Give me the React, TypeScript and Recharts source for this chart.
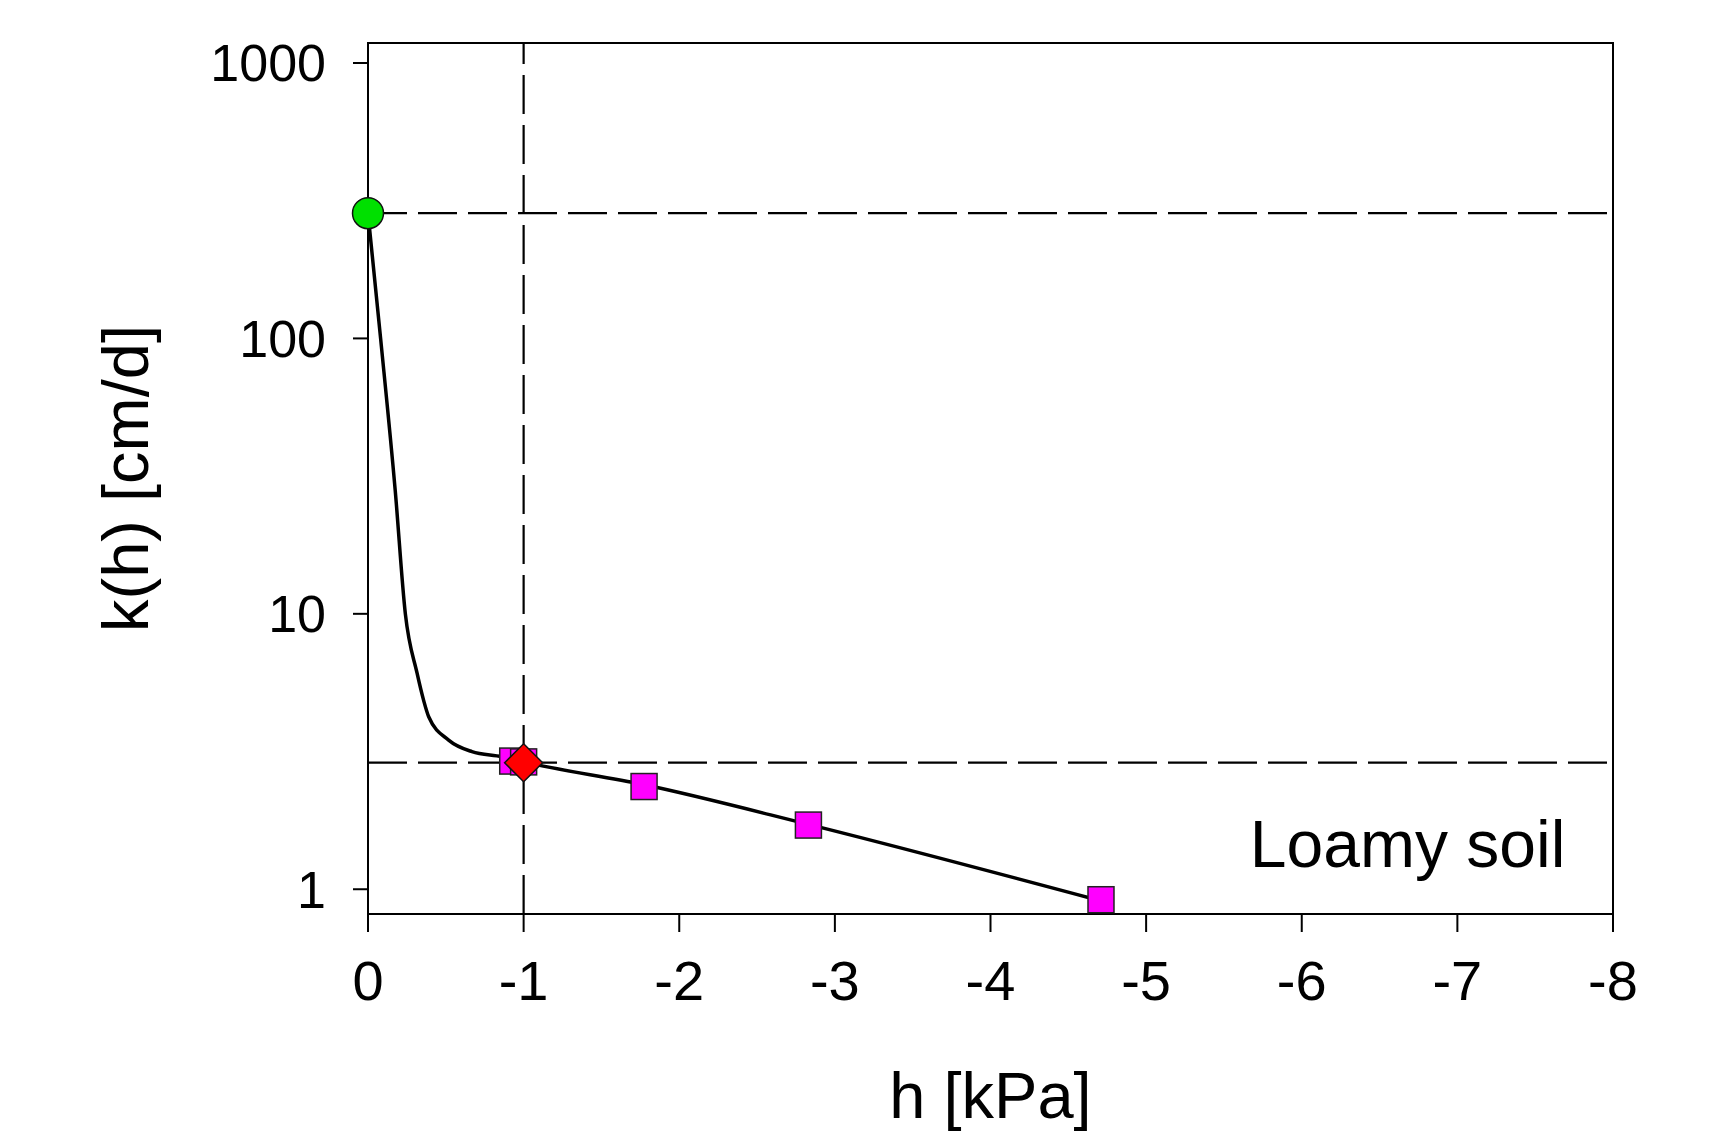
import React from "react";
import {
  ComposedChart,
  Line,
  Scatter,
  XAxis,
  YAxis,
  ReferenceLine,
  ReferenceArea,
  ReferenceDot,
  Label,
} from "recharts";

// fitted k(h) curve, h in kPa, k in cm/d
const curveH = [0, -0.081, -0.175, -0.24, -0.315, -0.357, -0.39, -0.518, -0.668, -0.86, -1, -1.77, -2.83, -4.7];
const curveK = [285, 100, 28, 10, 6.1, 4.86, 4.23, 3.48, 3.16, 3.03, 2.9, 2.4, 1.72, 0.91];

// measured points (squares)
const measH = [-0.93, -1.0, -1.774, -2.83, -4.71];
const measK = [2.92, 2.9, 2.36, 1.71, 0.916];

// saturated k (circle) and k at -1 kPa (diamond)
const satPoint = { h: 0, k: 285 };
const refPoint = { h: -1, k: 2.88 };

const xTicks = [0, -1, -2, -3, -4, -5, -6, -7, -8];
const yTicks = [1, 10, 100, 1000];
const yDomain: [number, number] = [0.813, 1182];

const curve = curveH.map((h, i) => ({ h, k: curveK[i] }));
const measured = measH.map((h, i) => ({ h, k: measK[i] }));

const FONT = "'Liberation Sans', Arial, sans-serif";

const Square = (props: any) => {
  const { cx, cy } = props;
  const s = 26;
  return <rect x={cx - s / 2} y={cy - s / 2} width={s} height={s} fill="#ff00ff" stroke="#222" strokeWidth={1.5} />;
};

const Circle = (props: any) => {
  const { cx, cy } = props;
  return <circle cx={cx} cy={cy} r={15.5} fill="#00e000" stroke="#111" strokeWidth={1.5} />;
};

const Diamond = (props: any) => {
  const { cx, cy } = props;
  const r = 19;
  return (
    <polygon
      points={`${cx},${cy - r} ${cx + r},${cy} ${cx},${cy + r} ${cx - r},${cy}`}
      fill="#ff0000"
      stroke="#111"
      strokeWidth={1.5}
    />
  );
};

export default function App() {
  return (
    <div style={{ position: "absolute", left: 0, top: 0, background: "#fff" }}>
      <ComposedChart width={1710} height={1133} margin={{ top: 43, right: 97, bottom: 0, left: 0 }}>
        <XAxis
          dataKey="h"
          type="number"
          domain={[-8, 0]}
          reversed
          ticks={xTicks}
          height={219}
          tickSize={18}
          tickMargin={28}
          axisLine={{ stroke: "#000", strokeWidth: 2 }}
          tickLine={{ stroke: "#000", strokeWidth: 2 }}
          tick={{ fill: "#000", fontSize: 56, fontFamily: FONT }}
        >
          <Label
            value="h [kPa]"
            position="insideBottom"
            offset={15}
            style={{ fill: "#000", fontSize: 65, fontFamily: FONT }}
          />
        </XAxis>
        <YAxis
          dataKey="k"
          type="number"
          scale="log"
          domain={yDomain}
          ticks={yTicks}
          width={368}
          tickSize={15}
          tickMargin={27}
          axisLine={{ stroke: "#000", strokeWidth: 2 }}
          tickLine={{ stroke: "#000", strokeWidth: 2 }}
          tick={{ fill: "#000", fontSize: 52, fontFamily: FONT }}
        >
          <Label
            value="k(h) [cm/d]"
            angle={-90}
            position="insideLeft"
            offset={125}
            style={{ fill: "#000", fontSize: 65, fontFamily: FONT, textAnchor: "middle" }}
          />
        </YAxis>
        <ReferenceArea x1={-8} x2={0} y1={yDomain[0]} y2={yDomain[1]} fill="none" stroke="#000" strokeWidth={2} />
        <ReferenceLine y={satPoint.k} stroke="#000" strokeWidth={2.2} strokeDasharray="39 11" />
        <ReferenceLine y={refPoint.k} stroke="#000" strokeWidth={2.2} strokeDasharray="39 11" />
        <ReferenceLine x={refPoint.h} stroke="#000" strokeWidth={2.2} strokeDasharray="39 11" />
        <ReferenceDot x={-6.68} y={1.47} r={0} fill="none" stroke="none">
          <Label value="Loamy soil" position="center" style={{ fill: "#000", fontSize: 66, fontFamily: FONT }} />
        </ReferenceDot>
        <Scatter data={measured} dataKey="k" shape={Square} isAnimationActive={false} />
        <Scatter data={[satPoint]} dataKey="k" shape={Circle} isAnimationActive={false} />
        <Line
          data={curve}
          dataKey="k"
          type="monotone"
          stroke="#000"
          strokeWidth={3.5}
          dot={false}
          activeDot={false}
          isAnimationActive={false}
        />
        <Scatter data={[refPoint]} dataKey="k" shape={Diamond} isAnimationActive={false} />
      </ComposedChart>
    </div>
  );
}
